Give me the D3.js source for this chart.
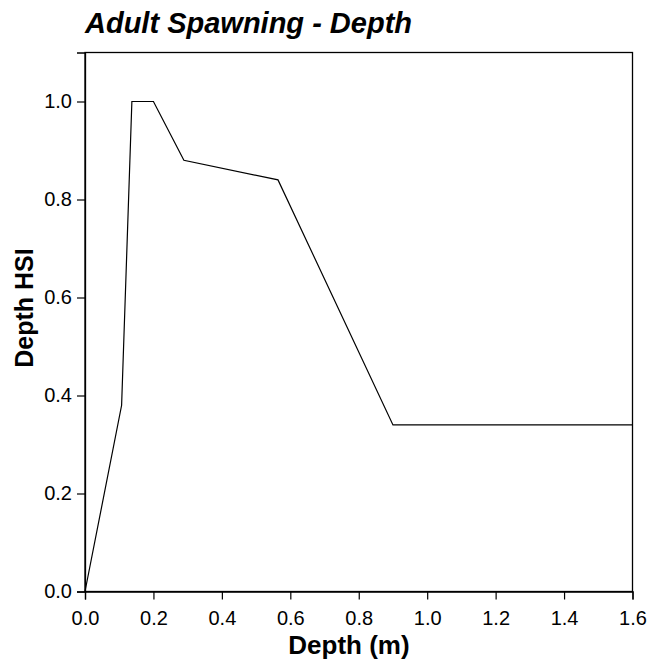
<!DOCTYPE html>
<html>
<head>
<meta charset="utf-8">
<script src="https://cdn.jsdelivr.net/npm/d3@7"></script>
<style>
  html, body { margin: 0; padding: 0; background: #fff; }
  svg { display: block; font-family: "Liberation Sans", Arial, sans-serif; }
</style>
</head>
<body>
<svg id="chart" width="651" height="662"></svg>
<script>
// Habitat suitability curve: depth (m) vs depth HSI
const depth = [0, 0.107, 0.137, 0.2, 0.289, 0.564, 0.9, 1.6];
const hsi   = [0, 0.38, 1.0, 1.0, 0.88, 0.84, 0.34, 0.34];
const xTicks = [0, 0.2, 0.4, 0.6, 0.8, 1.0, 1.2, 1.4, 1.6];
const yTicks = [0, 0.2, 0.4, 0.6, 0.8, 1.0];

const margin = { left: 85, right: 18.5, top: 52.5, bottom: 70.5 };
const W = 651, H = 662;
const svg = d3.select("#chart");

const x = d3.scaleLinear().domain([0, 1.6]).range([margin.left, W - margin.right]);
const y = d3.scaleLinear().domain([0, 1.1]).range([H - margin.bottom, margin.top]);

// Frame
svg.append("rect")
  .attr("x", x(0)).attr("y", y(1.1))
  .attr("width", x(1.6) - x(0)).attr("height", y(0) - y(1.1))
  .attr("fill", "none").attr("stroke", "#000").attr("stroke-width", 1.3);

const xAxis = svg.append("g")
  .attr("transform", `translate(0,${y(0)})`)
  .call(d3.axisBottom(x).tickValues(xTicks).tickFormat(d3.format(".1f")).tickSizeOuter(0).tickSize(8).tickPadding(11));
const yAxis = svg.append("g")
  .attr("transform", `translate(${x(0)},0)`)
  .call(d3.axisLeft(y).tickValues(yTicks).tickFormat(d3.format(".1f")).tickSizeOuter(0).tickSize(8).tickPadding(5));

[xAxis, yAxis].forEach(g => {
  g.attr("font-size", null).attr("font-family", null);
  g.select(".domain").attr("stroke", "#000").attr("stroke-width", 1.3);
  g.selectAll(".tick line").attr("stroke", "#000").attr("stroke-width", 1.2);
  g.selectAll(".tick text")
    .attr("fill", "#000")
    .style("font-family", "'Liberation Sans', Arial, sans-serif")
    .style("font-size", "20px");
});

// Curve
const line = d3.line().x((d, i) => x(depth[i])).y((d, i) => y(hsi[i]));
svg.append("path")
  .datum(depth)
  .attr("d", line)
  .attr("fill", "none")
  .attr("stroke", "#000")
  .attr("stroke-width", 1.2);

// Title
svg.append("text")
  .attr("x", 85).attr("y", 33)
  .style("font-size", "29px").style("font-weight", "bold").style("font-style", "italic")
  .text("Adult Spawning - Depth");

// Axis titles
svg.append("text")
  .attr("x", 349).attr("y", 654)
  .attr("text-anchor", "middle")
  .style("font-size", "26px").style("font-weight", "bold")
  .text("Depth (m)");

svg.append("text")
  .attr("transform", `translate(33,308) rotate(-90)`)
  .attr("text-anchor", "middle")
  .style("font-size", "25px").style("font-weight", "bold")
  .text("Depth HSI");
</script>
</body>
</html>
